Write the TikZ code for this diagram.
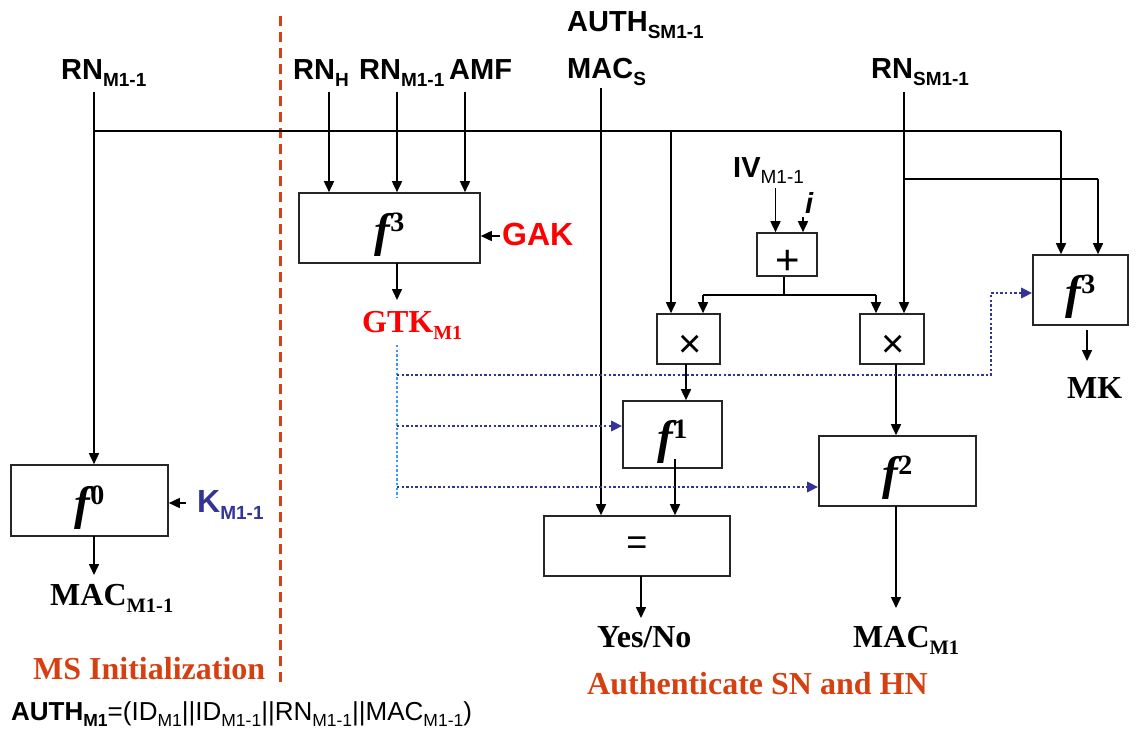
\documentclass[tikz,border=0pt]{standalone}
\usepackage{fontspec}
\setmainfont{Liberation Serif}
\setsansfont{Liberation Sans}
\usetikzlibrary{arrows.meta}
\definecolor{ored}{RGB}{214,64,16}
\definecolor{dblue}{RGB}{51,51,153}
\definecolor{lblue}{RGB}{60,150,255}
\definecolor{gred}{RGB}{255,0,0}
\newcommand{\fsz}[1]{\fontsize{#1}{#1}\selectfont}
\newcommand{\sbs}[2][19]{\raisebox{-0.24em}{\fsz{#1}#2}}
\newcommand{\fnc}[1]{\raisebox{-7pt}[\height][\depth]{{\fsz{47}\bfseries\itshape f}\raisebox{15pt}{\fsz{28}\bfseries #1}}}
\begin{document}
\begin{tikzpicture}[x=1pt,y=-1pt,
  box/.style={draw=black!85, line width=1.6pt, inner sep=0pt, fill=white},
  lab/.style={font=\sffamily\bfseries\fsz{29}, inner sep=0pt, anchor=base west},
  tlab/.style={font=\rmfamily\bfseries\fsz{32}, inner sep=0pt, anchor=base west},
  ln/.style={line width=1.6pt},
  arr/.style={line width=1.6pt, -{Triangle[length=11pt,width=10pt]}},
  dots/.style={dblue, line width=2.8pt, dash pattern=on 2.4pt off 2.2pt, -{Triangle[length=11pt,width=10pt]}},
  ldots/.style={lblue, line width=2.8pt, dash pattern=on 2.4pt off 2.2pt}]
\useasboundingbox (0,0) rectangle (1137,733);

% separator
\coordinate (sepT) at (280,16);
\coordinate (sepB) at (280,685);
\draw[ored, line width=3pt, dash pattern=on 10pt off 6pt] (sepT) -- (sepB);

% boxes
\node[box, minimum width=157pt, minimum height=71pt] (f0) at (89.5,500.5) {\fnc{0}};
\node[box, minimum width=181pt, minimum height=70pt] (f3L) at (389.5,228) {\fnc{3}};
\node[box, minimum width=60pt, minimum height=43pt] (plus) at (787,254.5) {};
\node[font=\sffamily\fsz{42}, inner sep=0pt] (plustxt) at (788,262) {+};
\node[box, minimum width=63pt, minimum height=50pt] (xL) at (688.5,339) {};
\node[font=\sffamily\fsz{40}, inner sep=0pt] (xLt) at (690,346) {×};
\node[box, minimum width=64pt, minimum height=50pt] (xR) at (892,339) {};
\node[font=\sffamily\fsz{40}, inner sep=0pt] (xRt) at (893,346) {×};
\node[box, minimum width=95pt, minimum height=70pt] (f3R) at (1080.5,290) {\fnc{3}};
\node[box, minimum width=99pt, minimum height=67pt] (f1) at (672.5,434.5) {\fnc{1}};
\node[box, minimum width=157pt, minimum height=70pt] (f2) at (897.5,471) {\fnc{2}};
\node[box, minimum width=186pt, minimum height=60pt, font=\sffamily\fsz{36}] (eq) at (637,546) {=};

% labels
\node[lab] (rnL) at (61,80) {RN\sbs{M1-1}};
\node[lab] (rnH) at (293,80) {RN\sbs{H}};
\node[lab] (rnM) at (359,80) {RN\sbs{M1-1}};
\node[lab] (amf) at (449,80) {AMF};
\node[lab] (auth) at (567,32) {AUTH\sbs{SM1-1}};
\node[lab] (macs) at (567,79) {MAC\sbs{S}};
\node[lab] (rnS) at (871,79) {RN\sbs{SM1-1}};
\node[lab] (iv) at (733,177) {IV\sbs{\mdseries M1-1}};
\node[lab] (ii) at (805,213) {\itshape i};
\node[lab, font=\sffamily\bfseries\fsz{32}, text=gred] (gak) at (502,245) {GAK};
\node[lab, font=\sffamily\bfseries\fsz{32}, text=dblue] (kL) at (197,512) {K\sbs{M1-1}};
\node[tlab, text=gred] (gtk) at (362,332) {GTK\sbs[20]{M1}};
\node[tlab] (macL) at (50,605) {MAC\sbs[20.5]{M1-1}};
\node[tlab] (yn) at (597,647) {Yes/No};
\node[tlab] (mac1) at (853,647) {MAC\sbs[20.5]{M1}};
\node[tlab] (mk) at (1067,398) {MK};
\node[tlab, text=ored] (msi) at (33,679) {MS Initialization};
\node[tlab, text=ored] (asn) at (587,694) {Authenticate SN and HN};
\node[inner sep=0pt, anchor=base west, font=\sffamily\fsz{26}] (authm) at (11,720)
  {\textbf{AUTH\sbs[17.5]{M1}}=(ID\sbs[17.5]{M1}||ID\sbs[17.5]{M1-1}||RN\sbs[17.5]{M1-1}||MAC\sbs[17.5]{M1-1})};

% coordinates for connectors
\coordinate (rnLb) at (94,92);
\coordinate (bus0) at (94,131);
\coordinate (bus1) at (1061,131);
\coordinate (busx) at (671,131);
\coordinate (rnHb) at (329,92);
\coordinate (rnMb) at (397,92);
\coordinate (amfb) at (465,92);
\coordinate (gakA) at (500,236);
\coordinate (f3Lo) at (397,263);
\coordinate (gtkT) at (397,300);
\coordinate (macsb) at (601,88);
\coordinate (rnSb) at (904,92);
\coordinate (rnSj) at (904,179);
\coordinate (rnSk) at (1098,179);
\coordinate (ivb) at (775.5,188);
\coordinate (iib) at (803,217);
\coordinate (pl1) at (784,295);
\coordinate (pl2) at (703,295);
\coordinate (pl3) at (876,295);
\coordinate (xLo) at (686,364);
\coordinate (f1o) at (675,459);
\coordinate (xRo) at (896,364);
\coordinate (f2o) at (896,506);
\coordinate (f2e) at (896,608);
\coordinate (eqo) at (641,576);
\coordinate (eqe) at (641,618);
\coordinate (f0o) at (94,536);
\coordinate (f0e) at (94,575);
\coordinate (kA) at (186,503);
\coordinate (f3Ro) at (1087,330);
\coordinate (f3Re) at (1087,361);
\coordinate (g0) at (397,345);
\coordinate (g1) at (397,497);
\coordinate (d1) at (397,375);
\coordinate (d1b) at (991,375);
\coordinate (d1c) at (991,293);
\coordinate (d2) at (397,426);
\coordinate (d3) at (397,487);

% solid connectors
\draw[arr] (rnLb) -- (rnLb |- f0.north);
\draw[ln] (bus0) -- (bus1);
\draw[arr] (bus1) -- (bus1 |- f3R.north);
\draw[arr] (busx) -- (busx |- xL.north);
\draw[arr] (rnHb) -- (rnHb |- f3L.north);
\draw[arr] (rnMb) -- (rnMb |- f3L.north);
\draw[arr] (amfb) -- (amfb |- f3L.north);
\draw[arr] (gakA) -- (gakA -| f3L.east);
\draw[arr] (f3Lo) -- (gtkT);
\draw[arr] (macsb) -- (macsb |- eq.north);
\draw[arr] (rnSb) -- (rnSb |- xR.north);
\draw[ln] (rnSj) -- (rnSk);
\draw[arr] (rnSk) -- (rnSk |- f3R.north);
\draw[arr] (ivb) -- (ivb |- plus.north);
\draw[arr] (iib) -- (iib |- plus.north);
\draw[ln] (pl1 |- plus.south) -- (pl1);
\draw[ln] (pl2) -- (pl3);
\draw[arr] (pl2) -- (pl2 |- xL.north);
\draw[arr] (pl3) -- (pl3 |- xR.north);
\draw[arr] (xLo) -- (xLo |- f1.north);
\draw[arr] (f1o) -- (f1o |- eq.north);
\draw[arr] (xRo) -- (xRo |- f2.north);
\draw[arr] (f2o) -- (f2e);
\draw[arr] (eqo) -- (eqe);
\draw[arr] (f0o) -- (f0e);
\draw[arr] (kA) -- (kA -| f0.east);
\draw[arr] (f3Ro) -- (f3Re);

% dotted key distribution
\draw[ldots] (g0) -- (g1);
\draw[dots] (d1) -- (d1b) -- (d1c) -- (d1c -| f3R.west);
\draw[dots] (d2) -- (d2 -| f1.west);
\draw[dots] (d3) -- (d3 -| f2.west);
\end{tikzpicture}
\end{document}
